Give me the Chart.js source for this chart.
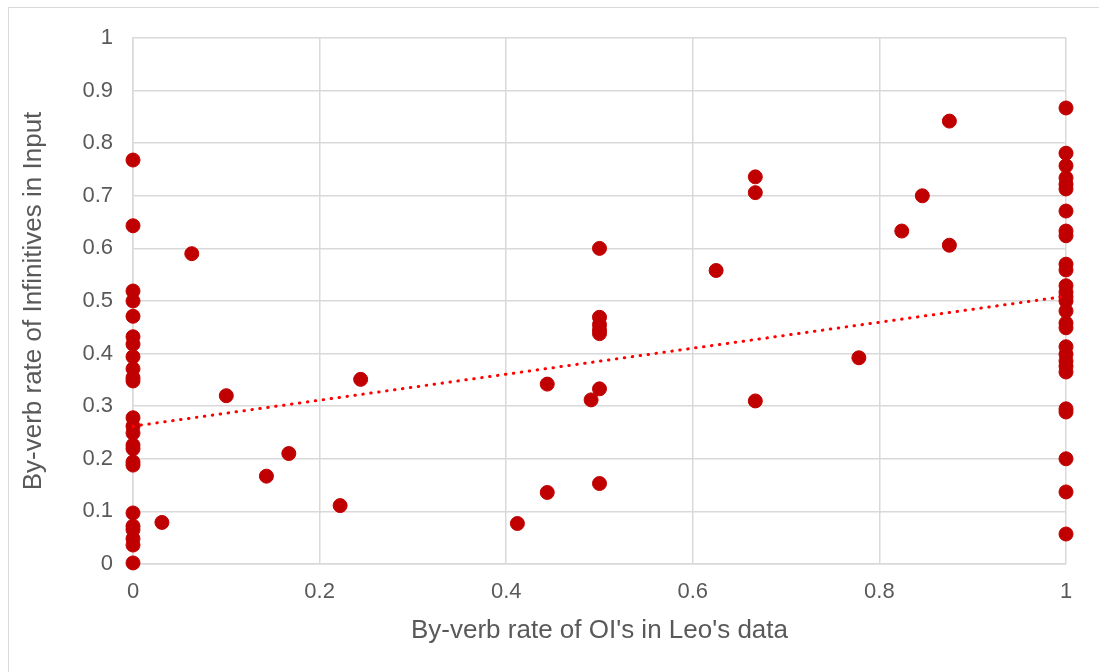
<!DOCTYPE html>
<html>
<head>
<meta charset="utf-8">
<script src="https://cdn.jsdelivr.net/npm/chart.js@4/dist/chart.umd.min.js"></script>
<style>
  html, body { margin: 0; padding: 0; background: #fff; overflow: hidden; }
  #wrap { position: relative; width: 1099px; height: 672px; }
  #frame { position: absolute; left: 8px; top: 7px; width: 1100px; height: 700px; border: 1px solid #d9d9d9; }
  canvas { position: absolute; left: 0; top: 0; }
</style>
</head>
<body>
<div id="wrap">
  <div id="frame"></div>
  <canvas id="chart" width="1099" height="672"></canvas>
</div>
<script>
// By-verb rates: OI's in Leo's data (x) vs infinitives in input (y)

// verbs with rate 0 in Leo's data
const zeroX = 0;
const zeroY = [0.768, 0.643, 0.519, 0.5, 0.471, 0.432, 0.418, 0.394, 0.371, 0.354, 0.348,
  0.278, 0.262, 0.249, 0.226, 0.219, 0.194, 0.188, 0.097, 0.072, 0.065, 0.048, 0.036, 0.002];

// verbs with rate 1 in Leo's data
const oneX = 1;
const oneY = [0.867, 0.781, 0.757, 0.734, 0.722, 0.713, 0.671, 0.633, 0.624, 0.570, 0.559,
  0.529, 0.517, 0.508, 0.500, 0.481, 0.458, 0.449, 0.413, 0.399, 0.386, 0.376, 0.365,
  0.295, 0.289, 0.200, 0.137, 0.057];

// everything in between
const midX = [0.031, 0.063, 0.1, 0.143, 0.167, 0.222, 0.244, 0.412, 0.444, 0.444, 0.491,
  0.5, 0.5, 0.5, 0.5, 0.5, 0.5, 0.5, 0.625, 0.667, 0.667, 0.667, 0.778, 0.824, 0.846, 0.875, 0.875];
const midY = [0.079, 0.59, 0.32, 0.167, 0.21, 0.111, 0.351, 0.077, 0.342, 0.136, 0.312,
  0.6, 0.469, 0.455, 0.445, 0.438, 0.333, 0.153, 0.558, 0.736, 0.706, 0.31, 0.392, 0.633, 0.7, 0.842, 0.606];

// linear trendline as drawn (Excel), read at x = 0 and x = 1
const trendX = [0, 1];
const trendY = [0.262, 0.509];

const xTitle = "By-verb rate of OI's in Leo's data";
const yTitle = 'By-verb rate of Infinitives in Input';

const points = [
  ...zeroY.map(y => ({ x: zeroX, y })),
  ...oneY.map(y => ({ x: oneX, y })),
  ...midX.map((x, i) => ({ x, y: midY[i] }))
];
const trend = trendX.map((x, i) => ({ x, y: trendY[i] }));

const fam = '"Liberation Sans", Arial, sans-serif';
const axisFont = { family: fam, size: 22 };
const titleFont = { family: fam, size: 26 };
const grey = '#595959';
const gridCol = '#d9d9d9';
const fmt = (v) => String(Math.round(v * 10) / 10);

new Chart(document.getElementById('chart').getContext('2d'), {
  type: 'scatter',
  data: {
    datasets: [
      {
        type: 'line',
        data: trend,
        borderColor: '#ff0000',
        borderWidth: 3,
        borderDash: [0.5, 7.5],
        borderCapStyle: 'round',
        pointRadius: 0,
        fill: false,
        clip: false
      },
      {
        data: points,
        backgroundColor: '#c00000',
        borderColor: '#c00000',
        borderWidth: 1,
        pointRadius: 7,
        clip: false
      }
    ]
  },
  options: {
    responsive: false,
    animation: false,
    layout: { padding: { left: 0, right: 33, top: 38, bottom: 0 } },
    plugins: { legend: { display: false }, tooltip: { enabled: false } },
    scales: {
      x: {
        type: 'linear',
        min: 0, max: 1,
        ticks: { stepSize: 0.2, color: grey, font: axisFont, padding: 15, maxRotation: 0, callback: fmt },
        grid: { color: gridCol, lineWidth: 1.5, drawTicks: false },
        border: { color: gridCol, width: 1.5 },
        title: { display: true, text: xTitle, color: grey, font: titleFont, padding: { top: 0, bottom: 26 } },
        afterFit: (s) => { s.height = 672 - 564; }
      },
      y: {
        type: 'linear',
        min: 0, max: 1,
        ticks: { stepSize: 0.1, color: grey, font: axisFont, padding: 20, callback: fmt },
        grid: { color: gridCol, lineWidth: 1.5, drawTicks: false },
        border: { color: gridCol, width: 1.5 },
        title: { display: true, text: yTitle, color: grey, font: titleFont, padding: { top: 18, bottom: 0 } },
        afterFit: (s) => { s.width = 133; }
      }
    }
  }
});
</script>
</body>
</html>
